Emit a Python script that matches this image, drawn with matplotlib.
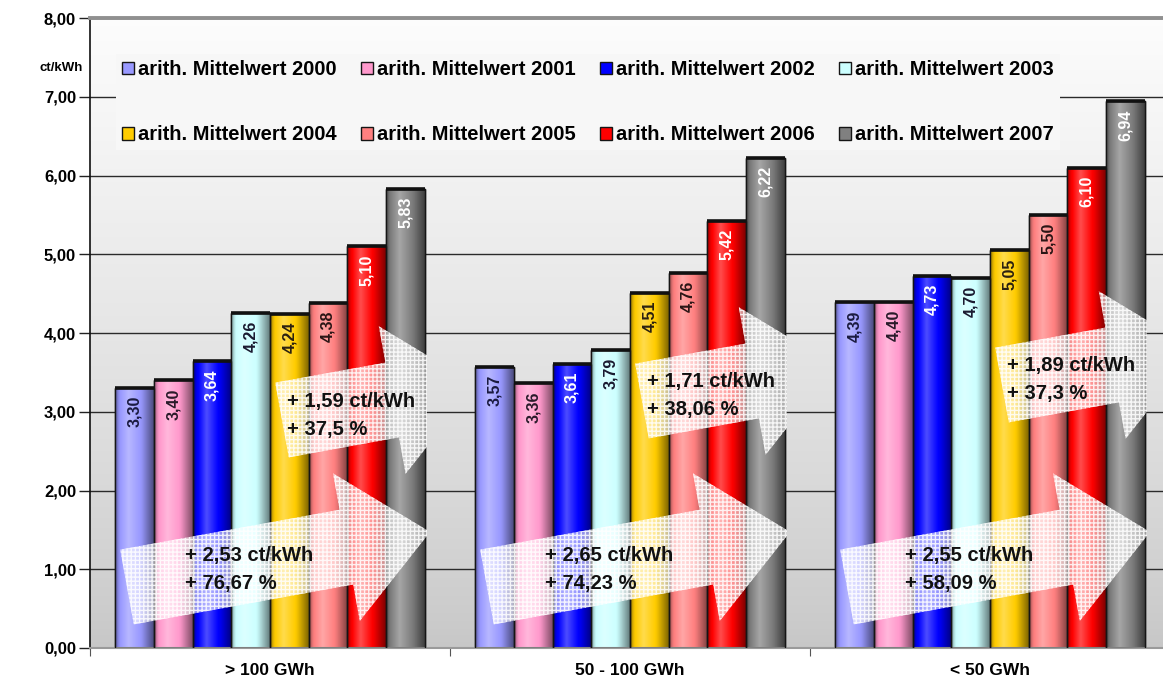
import numpy as np
import matplotlib.pyplot as plt
import matplotlib.colors as mcolors
from matplotlib.patches import Polygon, Rectangle

plt.rcParams['font.family'] = ['Liberation Sans', 'DejaVu Sans']
plt.rcParams['hatch.linewidth'] = 1.0

categories = ['> 100 GWh', '50 - 100 GWh', '< 50 GWh']
years = [2000, 2001, 2002, 2003, 2004, 2005, 2006, 2007]

v2000 = [3.30, 3.57, 4.39]
v2001 = [3.40, 3.36, 4.40]
v2002 = [3.64, 3.61, 4.73]
v2003 = [4.26, 3.79, 4.70]
v2004 = [4.24, 4.51, 5.05]
v2005 = [4.38, 4.76, 5.50]
v2006 = [5.10, 5.42, 6.10]
v2007 = [5.83, 6.22, 6.94]
series = [v2000, v2001, v2002, v2003, v2004, v2005, v2006, v2007]

# Zuwachs 2000 -> 2007 und 2004 -> 2007
total_delta = ['2,53', '2,65', '2,55']
total_pct = ['76,67', '74,23', '58,09']
recent_delta = ['1,59', '1,71', '1,89']
recent_pct = ['37,5', '38,06', '37,3']

colors = ['#9999ff', '#ff99cc', '#0000ff', '#ccffff',
          '#ffcc00', '#ff8080', '#ff0000', '#808080']
label_colors = ['#1a1a40', '#2a1a2a', 'white', '#1a1a30',
                '#2a2010', '#2a1515', 'white', 'white']

W, H = 1163, 682
fig = plt.figure(figsize=(W / 100, H / 100), dpi=100)
ax = fig.add_axes([90 / W, (H - 648) / H, 1080 / W, 630 / H])


def bg_color(y):
    # background gets darker towards the bottom
    g = 0.78 + 0.21 * (y / 8.0) ** 0.8
    return (g, g, g)


yy = np.linspace(0, 8, 200)
grad = np.array([bg_color(y) for y in yy])[:, None, :]
ax.imshow(grad, extent=[-0.5, 2.5, 0, 8], origin='lower', aspect='auto',
          zorder=0, interpolation='bilinear')

ax.set_xlim(-0.5, 2.5)
ax.set_ylim(0, 8)

group_w = 0.86
bw = group_w / len(series)
x = np.arange(len(categories))


def shade(bar, color):
    rgb = np.array(mcolors.to_rgb(color))
    t = np.linspace(0, 1, 60)
    p = np.interp(t, [0, 0.1, 0.35, 0.7, 1.0], [-0.4, -0.05, 0.3, -0.05, -0.5])[:, None]
    cols = np.where(p > 0, rgb + (1 - rgb) * p, rgb * (1 + p))
    x0, y0 = bar.get_x(), bar.get_y()
    im = ax.imshow(cols[None, :, :], extent=[x0, x0 + bar.get_width(), y0, y0 + bar.get_height()],
                   aspect='auto', zorder=2.2, interpolation='bilinear')
    im.set_clip_path(bar)


handles = []
for i, (vals, col) in enumerate(zip(series, colors)):
    xs = x - group_w / 2 + bw * (i + 0.5)
    bars = ax.bar(xs, vals, bw, color=col, edgecolor='#151515', linewidth=1,
                  zorder=2, label=f'arith. Mittelwert {years[i]}')
    handles.append(bars)
    for b in bars:
        shade(b, col)
    ax.bar(xs, vals, bw, fill=False, edgecolor='#151515', linewidth=1, zorder=3)
    ax.hlines(vals, xs - bw / 2, xs + bw / 2, color='#111111', lw=2.6, zorder=3.1)
    for xi, v in zip(xs, vals):
        ax.text(xi, v - 0.1, f'{v:.2f}'.replace('.', ','), rotation=90,
                ha='center', va='top', fontsize=11.5, fontweight='bold',
                color=label_colors[i], zorder=5)

# axes styling
ax.set_yticks(range(0, 9))
ax.set_yticklabels([f'{v},00' for v in range(0, 9)], fontsize=12, fontweight='bold')
ax.yaxis.grid(True, color='#2a2a2a', lw=1)
ax.set_axisbelow(True)
ax.tick_params(axis='y', length=8, width=1, color='#222', pad=2)
ax.set_xticks([-0.5, 0.5, 1.5, 2.5])
ax.set_xticklabels([])
ax.tick_params(axis='x', which='major', length=6, color='#555')
ax.set_xticks(x, minor=True)
ax.set_xticklabels(categories, minor=True, fontsize=12.5, fontweight='bold')
ax.tick_params(axis='x', which='minor', length=0, pad=11)
ax.spines['right'].set_visible(False)
ax.spines['left'].set_color('#111')
ax.spines['left'].set_linewidth(1.2)
ax.spines['top'].set_color('#909090')
ax.spines['top'].set_linewidth(2.8)
ax.spines['bottom'].set_color('#9a9a9a')
ax.spines['bottom'].set_linewidth(1.5)

fig.text(61 / W, 1 - 68 / H, 'ct/kWh', ha='center', va='center',
         fontsize=9.5, fontweight='bold')

order = [0, 4, 1, 5, 2, 6, 3, 7]
leg = ax.legend([handles[k] for k in order], [handles[k].get_label() for k in order],
                ncol=4, loc='upper left', bbox_to_anchor=(116 / W, 1 - 54 / H),
                bbox_transform=fig.transFigure, frameon=True, facecolor=bg_color(7.0),
                edgecolor='none', framealpha=1, prop={'weight': 'bold', 'size': 14.5},
                labelspacing=2.3, columnspacing=1.2, handlelength=0.6,
                handleheight=0.6, handletextpad=0.2, borderpad=0.3, borderaxespad=0)
leg.get_frame().set_boxstyle('square', pad=0)
leg.set_zorder(6)

# Pfeile (in Pixeln, vom linken Gruppenrand aus)
inv = ax.transData.inverted()


def arrow_pts(px, py, body_len, head_len, body_w=76, head_w=150, angle=10.3):
    a = np.radians(angle)
    local = np.array([[0, -body_w / 2], [body_len, -body_w / 2], [body_len, -head_w / 2],
                      [body_len + head_len, 0], [body_len, head_w / 2],
                      [body_len, body_w / 2], [0, body_w / 2]])
    rot = np.array([[np.cos(a), -np.sin(a)], [np.sin(a), np.cos(a)]])
    pts = local @ rot.T + np.array([px, H - py])
    return inv.transform(pts)


def draw_arrow(g, px, py, body_len, head_len):
    pts = arrow_pts(px, py, body_len, head_len)
    clip = Rectangle((g - 0.5, 0), 0.5 + group_w / 2 + 0.006, 8, transform=ax.transData)
    fill = Polygon(pts, closed=True, facecolor='white', alpha=0.58, lw=0, zorder=4)
    hatch = Polygon(pts, closed=True, fill=False, hatch='++++', edgecolor='#ffffff',
                    lw=0, zorder=4.1, alpha=0.85)
    for p in (fill, hatch):
        ax.add_patch(p)
        p.set_clip_path(clip)


upper_y = [420, 401, 385]
for g in range(len(categories)):
    ox = 90 + 360 * g
    draw_arrow(g, ox + 37, 587, 223, 85)
    lx, ly = inv.transform((ox + 95, H - 570))
    ax.text(lx, ly, f'+ {total_delta[g]} ct/kWh\n+ {total_pct[g]} %', ha='left',
            va='center', fontsize=14.5, fontweight='bold', color='#111',
            linespacing=1.6, zorder=7)
    draw_arrow(g, ox + 192, upper_y[g], 112, 85)
    lx, ly = inv.transform((ox + 197, H - (upper_y[g] - 5)))
    ax.text(lx, ly, f'+ {recent_delta[g]} ct/kWh\n+ {recent_pct[g]} %', ha='left',
            va='center', fontsize=14.5, fontweight='bold', color='#111',
            linespacing=1.6, zorder=7)

fig.savefig('out.png', dpi=100)
